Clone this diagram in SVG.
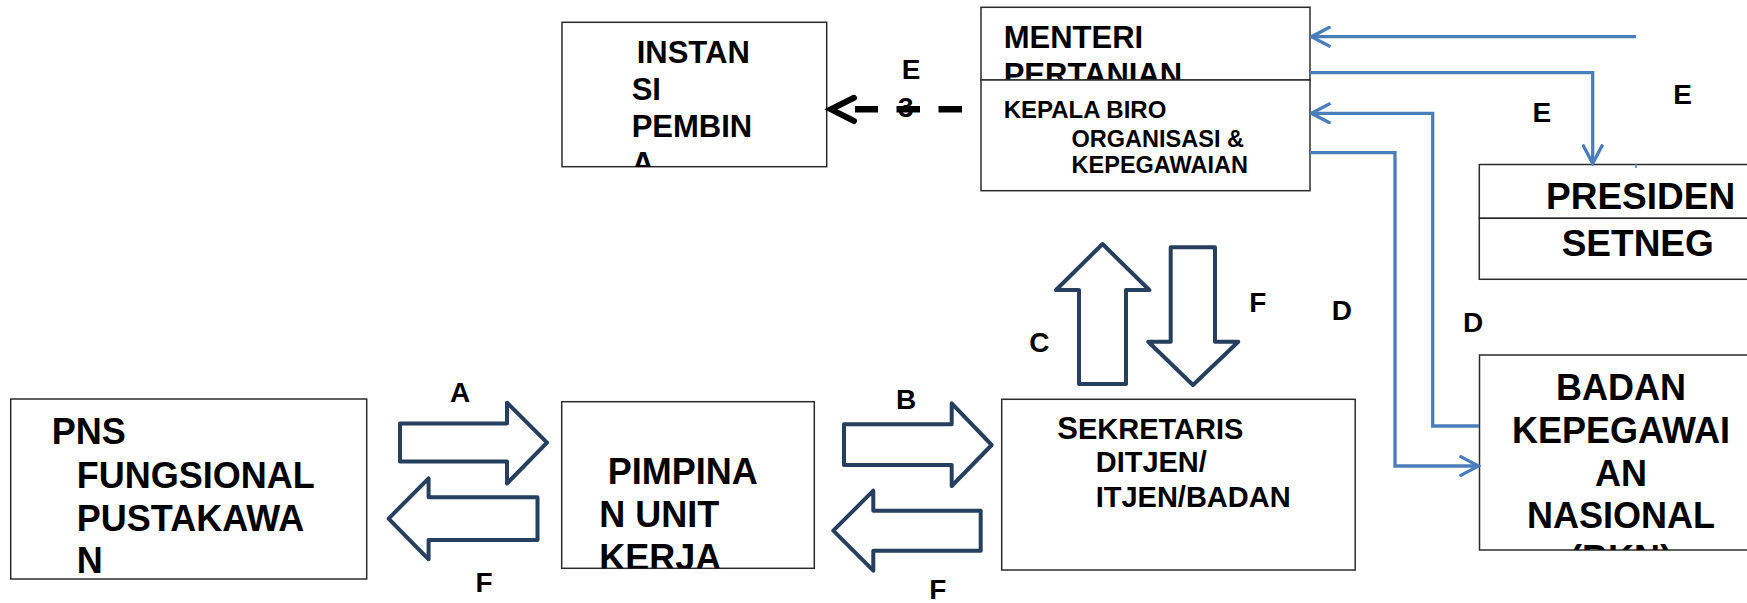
<svg xmlns="http://www.w3.org/2000/svg" width="1747" height="603" viewBox="0 0 1747 603">
<style>
text{font-family:"Liberation Sans",Arial,sans-serif;font-weight:bold;fill:#000}
.box{fill:#fff;stroke:#2b2b2b;stroke-width:1.5}
.blk{fill:#fff;stroke:#263f5f;stroke-width:4;stroke-linejoin:round}
.blue{fill:none;stroke:#4a7ebb;stroke-width:3.3}
.lbl{font-size:28px}
</style>
<defs>
<marker id="oa" viewBox="0 0 22 22" refX="20" refY="11" markerWidth="22" markerHeight="22" orient="auto" markerUnits="userSpaceOnUse">
<path d="M1,1 L20,11 L1,21" fill="none" stroke="#4a7ebb" stroke-width="3.3"/>
</marker>
<clipPath id="cInst"><rect x="562" y="22" width="265" height="145"/></clipPath>
<clipPath id="cMen"><rect x="981" y="7" width="329" height="73"/></clipPath>
<clipPath id="cPim"><rect x="562" y="402" width="252" height="166.3"/></clipPath>
<clipPath id="cBkn"><rect x="1479" y="355" width="280" height="195"/></clipPath>
</defs>

<g id="instansi-pembina">
<rect class="box" x="562" y="22.3" width="264.7" height="144.4"/>
<g clip-path="url(#cInst)">
<text x="636.7" y="63" font-size="31">INSTAN</text>
<text x="631.7" y="100" font-size="31">SI</text>
<text x="631.7" y="136.7" font-size="31">PEMBIN</text>
<text x="631.7" y="174" font-size="31">A</text>
</g>
</g>

<g id="menteri-pertanian">
<rect class="box" x="981" y="7.3" width="329" height="72.7"/>
<g clip-path="url(#cMen)">
<text x="1003.7" y="48.3" font-size="31">MENTERI</text>
<text x="1003.7" y="85" font-size="31">PERTANIAN</text>
</g>
</g>

<g id="kepala-biro">
<rect class="box" x="981" y="80" width="329" height="110.7"/>
<text x="1003.7" y="118.3" font-size="24">KEPALA BIRO</text>
<text x="1071.6" y="146.7" font-size="23.5">ORGANISASI &amp;</text>
<text x="1071.6" y="173.3" font-size="23.5">KEPEGAWAIAN</text>
</g>

<g id="presiden">
<rect class="box" x="1479.3" y="164.5" width="290" height="53.8"/>
<text x="1546" y="209" font-size="37">PRESIDEN</text>
</g>

<g id="setneg">
<rect class="box" x="1479.3" y="218.3" width="290" height="61"/>
<text x="1561.7" y="256" font-size="37">SETNEG</text>
</g>

<g id="bkn">
<rect class="box" x="1479.5" y="355" width="290" height="195"/>
<g clip-path="url(#cBkn)" text-anchor="middle">
<text x="1621" y="400" font-size="36">BADAN</text>
<text x="1621" y="443.3" font-size="36">KEPEGAWAI</text>
<text x="1621" y="485.5" font-size="36">AN</text>
<text x="1621" y="528.3" font-size="36">NASIONAL</text>
<text x="1621" y="571" font-size="36">(BKN)</text>
</g>
</g>

<g id="pns-fungsional">
<rect class="box" x="10.7" y="399" width="356" height="180"/>
<text x="51.8" y="444" font-size="36">PNS</text>
<text x="76.8" y="487.7" font-size="36">FUNGSIONAL</text>
<text x="76.8" y="530.7" font-size="36">PUSTAKAWA</text>
<text x="76.8" y="573.3" font-size="36">N</text>
</g>

<g id="pimpinan-unit-kerja">
<rect class="box" x="561.7" y="401.7" width="252.6" height="166.6"/>
<g clip-path="url(#cPim)">
<text x="607.7" y="484" font-size="36">PIMPINA</text>
<text x="599.3" y="526.7" font-size="36">N UNIT</text>
<text x="599.3" y="569.5" font-size="36">KERJA</text>
</g>
</g>

<g id="sekretaris">
<rect class="box" x="1001.7" y="399.3" width="353.5" height="170.7"/>
<text x="1057.3" y="439" font-size="29"><tspan font-size="31">S</tspan>EKRETARIS</text>
<text x="1095.7" y="472.3" font-size="29">DITJEN/</text>
<text x="1095.7" y="507.3" font-size="29">ITJEN/BADAN</text>
</g>

<g id="connectors">
<polygon class="blk" points="400,423.5 507,423.5 507,402.7 547,442.7 507,483.5 507,461.5 400,461.5"/>
<polygon class="blk" points="388.6,518.6 428.6,478.3 428.6,497.3 537.5,497.3 537.5,540 428.6,540 428.6,559.3"/>
<polygon class="blk" points="844,424.3 951.7,424.3 951.7,403.3 991.7,445 951.7,486 951.7,465 844,465"/>
<polygon class="blk" points="833.3,530.7 873.3,490.7 873.3,510.7 980.7,510.7 980.7,550.7 873.3,550.7 873.3,570.7"/>
<polygon class="blk" points="1102.5,244 1149.3,290 1126,290 1126,384 1079,384 1079,290 1056,290"/>
<polygon class="blk" points="1170.7,247.3 1215,247.3 1215,341.7 1238.3,341.7 1193,385 1148.3,341.7 1170.7,341.7"/>

<path class="blue" d="M1636,36.7 H1311.5" marker-end="url(#oa)"/>
<path class="blue" d="M1310,72.7 H1592.7 V163.5" marker-end="url(#oa)"/>
<path class="blue" d="M1479,426 H1432.7 V113.3 H1311.5" marker-end="url(#oa)"/>
<path class="blue" d="M1310,152.7 H1395 V466 H1478.5" marker-end="url(#oa)"/>
<path d="M1636,164 V168" stroke="#4a7ebb" stroke-width="1.5"/>

<path d="M962,109.3 H855" stroke="#000" stroke-width="6.5" stroke-dasharray="23.5 18.5" fill="none"/>
<polyline points="854,97.8 831,109.3 854,121" fill="none" stroke="#000" stroke-width="6" stroke-linecap="round" stroke-linejoin="miter"/>
</g>

<g id="labels">
<text class="lbl" x="901.7" y="79.3">E</text>
<text class="lbl" x="898" y="116.7">3</text>
<text class="lbl" x="460" y="401.7" text-anchor="middle">A</text>
<text class="lbl" x="484" y="592.3" text-anchor="middle">F</text>
<text class="lbl" x="896" y="409.3">B</text>
<text class="lbl" x="929.3" y="599">F</text>
<text class="lbl" x="1029.3" y="351.7">C</text>
<text class="lbl" x="1249.3" y="311.7">F</text>
<text class="lbl" x="1331.7" y="320">D</text>
<text class="lbl" x="1463" y="331.7">D</text>
<text class="lbl" x="1532.5" y="121.7">E</text>
<text class="lbl" x="1673.3" y="104">E</text>
</g>
</svg>
